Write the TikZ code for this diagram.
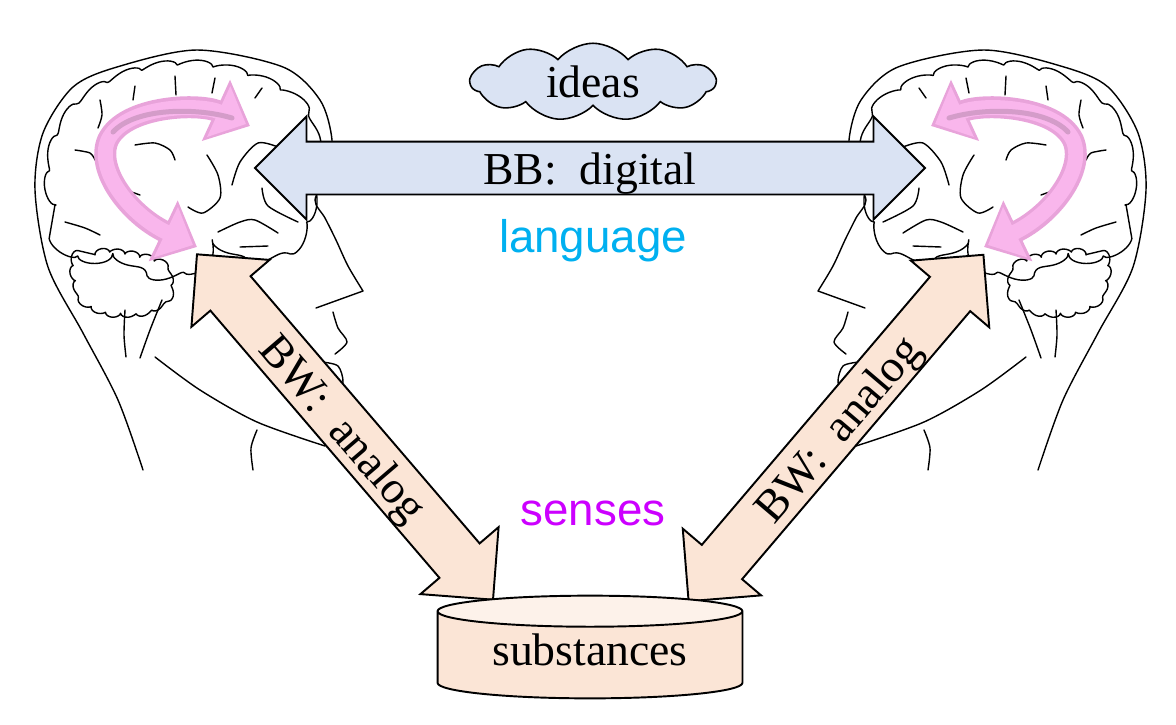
\documentclass[tikz,border=0pt]{standalone}
\usepackage{fontspec}
\setmainfont{Liberation Serif}
\setsansfont{Liberation Sans}
\usepackage{tikz}
\usetikzlibrary{shapes.arrows,shapes.symbols,shapes.geometric,arrows.meta,decorations.pathmorphing}
\newcommand{\diagfont}{\fontsize{26}{30}\selectfont}

\begin{document}
\begin{tikzpicture}[x=0.02cm,y=-0.02cm]
  \definecolor{peach}     {HTML}{FBE5D6};
  \definecolor{paleblue}  {HTML}{DAE3F3};
  \definecolor{langcyan}  {HTML}{00B0F0};
  \definecolor{sensemag}  {HTML}{CC00FF};
  \definecolor{pinkfill}  {HTML}{F9B6EC};
  \definecolor{pinkedge}  {HTML}{E8A3DA};
  \definecolor{pinkstripe}{HTML}{D49CC9};
  \tikzstyle{sketch}=[line width=0.8pt,line cap=round,line join=round]
  \tikzstyle{gyri}=[sketch,decorate,decoration={bumps,segment length=1.4cm,amplitude=0.16cm}]
  \tikzstyle{blockarrow}=[double arrow,draw,line width=1.1pt,double arrow head extend=0.5cm,
    double arrow tip angle=90,inner sep=0pt,text height=0.84cm,text depth=0.18cm,font=\diagfont]
  \tikzstyle{bbarrow}=[blockarrow,fill=paleblue,minimum height=13.4cm]
  \tikzstyle{bwarrow}=[blockarrow,fill=peach,minimum height=9.1cm]
  \tikzstyle{idea}=[cloud,draw,line width=0.9pt,fill=paleblue,cloud puffs=11,cloud puff arc=100,
    cloud ignores aspect,minimum width=4.9cm,minimum height=1.55cm,inner sep=0pt,font=\diagfont]
  \tikzstyle{drum}=[cylinder,shape border rotate=90,draw,line width=1.1pt,aspect=0.15,
    minimum width=6.1cm,minimum height=1.9cm,cylinder uses custom fill,text depth=0.32cm,
    cylinder body fill=peach,cylinder end fill=peach!50,font=\diagfont]
  \tikzstyle{word}=[font=\sffamily\diagfont,anchor=base]
  \tikzset{
    headpic/.pic={
      % skull and face
      \draw[sketch] plot[smooth] coordinates {(143,470) (118,400) (83,333) (48,267) (35,190)
        (43,133) (73,87) (117,67) (197,50) (283,67) (320,100) (332,140) (327,175) (315,200)
        (325,218) (336,240) (348,266) (363,291)} -- (316,308);
      \draw[sketch] plot[smooth] coordinates {(333,312) (338,328) (347,342) (335,354)};
      \draw[sketch] plot[smooth] coordinates {(322,362) (338,366) (343,382) (336,395)};
      % jaw and neck
      \draw[sketch] plot[smooth] coordinates {(155,357) (200,390) (257,422) (325,446)};
      \draw[sketch] plot[smooth] coordinates {(257,430) (251,448) (253,470)};
      % brain
      \draw[gyri] plot[smooth cycle] coordinates {(70,245) (56,205) (55,165) (66,130) (88,103)
        (115,85) (150,73) (185,69) (220,72) (255,82) (283,96) (300,115) (310,140) (312,175)
        (308,205) (300,228) (282,245) (255,252) (228,246) (205,258) (175,268) (150,262)
        (115,255) (85,258)};
      \draw[gyri,decoration={segment length=0.6cm,amplitude=0.1cm}] plot[smooth cycle]
        coordinates {(75,265) (95,255) (125,255) (160,265) (168,290) (150,308) (115,312) (85,300)};
      \draw[sketch] plot[smooth] coordinates {(125,310) (124,335) (126,357)};
      \draw[sketch] plot[smooth] coordinates {(162,300) (150,330) (140,358)};
      % sulci
      \draw[sketch] plot[smooth] coordinates {(100,100) (102,115) (98,128)};
      \draw[sketch] plot[smooth] coordinates {(135,86) (133,100)};
      \draw[sketch] plot[smooth] coordinates {(175,76) (176,95)};
      \draw[sketch] plot[smooth] coordinates {(215,78) (212,93)};
      \draw[sketch] plot[smooth] coordinates {(262,88) (255,98)};
      \draw[sketch] plot[smooth] coordinates {(75,150) (90,153) (95,160)};
      \draw[sketch] plot[smooth] coordinates {(135,145) (155,143) (170,150) (175,160)};
      \draw[sketch] plot[smooth] coordinates {(207,155) (218,175) (220,198) (203,213) (188,207)};
      \draw[sketch] plot[smooth] coordinates {(232,185) (240,162) (258,143) (278,147)};
      \draw[sketch] plot[smooth] coordinates {(218,232) (240,222) (255,220) (278,233)};
      \draw[sketch] plot[smooth] coordinates {(262,188) (268,206) (298,222)};
      \draw[sketch] plot[smooth] coordinates {(110,188) (125,190) (140,195)};
      \draw[sketch] plot[smooth] coordinates {(65,222) (85,228) (100,235)};
      \draw[sketch] plot[smooth] coordinates {(240,247) (268,246)};
      % thinking loop
      \draw[pinkedge,line width=0.44cm,{Triangle[width=1.3cm,length=0.75cm]}-{Triangle[width=1.3cm,length=0.75cm]}]
        (197,247) .. controls (130,215) and (95,170) .. (108,140) .. controls (125,105) and (200,103) .. (250,126);
      \draw[pinkfill,line width=0.3cm,{Triangle[width=1.08cm,length=0.6cm]}-{Triangle[width=1.08cm,length=0.6cm]}]
        (193,245) .. controls (130,215) and (95,170) .. (108,140) .. controls (125,105) and (200,103) .. (246,124);
      \draw[pinkstripe,line width=0.1cm,line cap=round]
        (113,132) .. controls (135,108) and (195,107) .. (232,118);
    }
  }
  \useasboundingbox (0,0) rectangle (1176,724);
  % the two heads
  \pic (lefthead) at (0,0) {headpic};
  \pic[xscale=-1,gyri/.append style={decoration={mirror}}] (righthead) at (1181,0) {headpic};
  % channels
  \node[bbarrow] (bb) at (590,168) {BB:\ \ digital};
  \node[bwarrow,rotate=-49.4] (bwleft) at (345,427) {BW:\ \ analog};
  \node[bwarrow,rotate=49.6] (bwright) at (836,428) {BW:\ \ analog};
  \node[idea] (ideas) at (593,82) {ideas};
  \node[drum,anchor=shape center] (subst) at (590,647) {substances};
  \node[word,text=langcyan] (lang) at (593,252) {language};
  \node[word,text=sensemag] (senses) at (593,525) {senses};
\end{tikzpicture}
\end{document}
